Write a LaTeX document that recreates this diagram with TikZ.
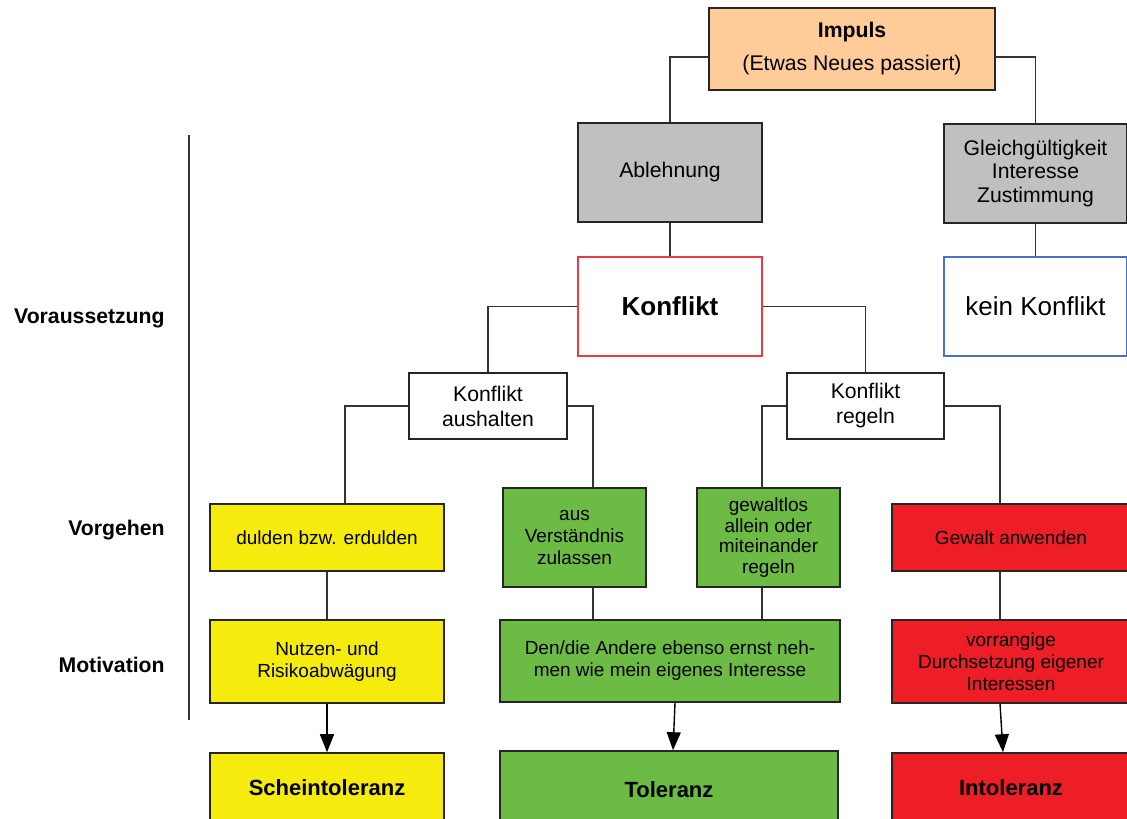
\documentclass[tikz,border=0pt]{standalone}
\usepackage{fontspec}
\setmainfont{Liberation Sans}
\usetikzlibrary{arrows.meta}

\definecolor{peach}{RGB}{255,204,153}
\definecolor{boxgray}{RGB}{192,192,192}
\definecolor{tolyellow}{RGB}{245,236,14}
\definecolor{tolgreen}{RGB}{108,187,68}
\definecolor{tolred}{RGB}{237,30,38}
\definecolor{konfred}{RGB}{235,60,70}
\definecolor{konfblue}{RGB}{68,114,196}

\begin{document}
\begin{tikzpicture}[x=0.5pt,y=-0.5pt,
  box/.style={draw=black!85,line width=0.8pt,align=center,inner sep=2pt,
    font=\fontsize{10.6}{12.5}\selectfont},
  small/.style={font=\fontsize{9.5}{11}\selectfont},
  endbox/.style={box,font=\fontsize{11}{13}\selectfont\bfseries},
  lab/.style={anchor=east,inner sep=0pt,font=\fontsize{10.6}{12.5}\selectfont\bfseries},
  line/.style={draw=black!80,line width=0.7pt},
  arr/.style={draw=black,line width=0.7pt,-{Triangle[length=9pt,width=7pt]}}]
  \useasboundingbox (0,0) rectangle (1127,818);

  % top
  \node[box,fill=peach,minimum width=143pt,minimum height=41pt] (impuls) at (852,49)
    {\textbf{Impuls}\\[4pt](Etwas Neues passiert)};
  \node[box,fill=boxgray,minimum width=92pt,minimum height=49.5pt] (ablehnung) at (670,172.5) {Ablehnung};
  \node[box,fill=boxgray,minimum width=91.5pt,minimum height=49.5pt,font=\fontsize{10.6}{11.8}\selectfont] (gleich) at (1035.5,173.5)
    {Gleichgültigkeit\\Interesse\\Zustimmung};
  \node[box,draw=konfred,minimum width=92pt,minimum height=49.5pt,font=\fontsize{13}{15}\selectfont\bfseries] (konflikt) at (670,306.5) {Konflikt};
  \node[box,draw=konfblue,minimum width=91.5pt,minimum height=49.5pt,font=\fontsize{13}{15}\selectfont] (kein) at (1035.5,306.5) {kein Konflikt};
  \node[box,minimum width=79pt,minimum height=33pt] (aushalten) at (488,406) {Konflikt\\aushalten};
  \node[box,minimum width=78.5pt,minimum height=33pt] (regeln) at (865.5,406) {Konflikt\\regeln};

  % Vorgehen
  \node[box,small,fill=tolyellow,minimum width=117pt,minimum height=33.5pt] (dulden) at (327,537.5) {dulden bzw. erdulden};
  \node[box,small,fill=tolgreen,minimum width=71.5pt,minimum height=49.5pt] (verst) at (574.5,537.5) {aus\\Verständnis\\zulassen};
  \node[box,small,fill=tolgreen,minimum width=71.5pt,minimum height=49.5pt,font=\fontsize{9.5}{10.3}\selectfont] (gewaltlos) at (768.5,537.5)
    {gewaltlos\\allein oder\\miteinander\\regeln};
  \node[box,small,fill=tolred,minimum width=119pt,minimum height=33.5pt] (gewalt) at (1011,537.5) {Gewalt anwenden};

  % Motivation
  \node[box,small,fill=tolyellow,minimum width=117pt,minimum height=41.5pt] (nutzen) at (327,661.5) {Nutzen- und\\Risikoabwägung};
  \node[box,small,fill=tolgreen,minimum width=170pt,minimum height=41pt] (ernst) at (670,661)
    {Den/die Andere ebenso ernst neh-\\men wie mein eigenes Interesse};
  \node[box,small,fill=tolred,minimum width=119pt,minimum height=41.5pt] (vorrang) at (1011,661.5)
    {vorrangige\\Durchsetzung eigener\\Interessen};

  % Ergebnis
  \node[endbox,fill=tolyellow,minimum width=117pt,minimum height=34.5pt] (schein) at (327,787.5) {Scheintoleranz};
  \node[endbox,fill=tolgreen,minimum width=169pt,minimum height=39pt] (toleranz) at (669,790) {Toleranz};
  \node[endbox,fill=tolred,minimum width=119pt,minimum height=34.5pt] (intol) at (1011,787.5) {Intoleranz};

  % left side
  \foreach \y/\txt in {318/Voraussetzung,530/Vorgehen,665/Motivation}
    \node[lab] (lab\y) at (165,\y) {\txt};
  \coordinate (stemtop) at (189,135);
  \coordinate (stembot) at (189,720);
  \draw[line] (stemtop) -- (stembot);

  % connectors
  \draw[line] ([yshift=-4pt]impuls.west) -| (ablehnung.north);
  \draw[line] ([yshift=-4pt]impuls.east) -| (gleich.north);
  \draw[line] (ablehnung.south) -- (konflikt.north);
  \draw[line] (gleich.south) -- (kein.north);
  \draw[line] (konflikt.west) -| (aushalten.north);
  \draw[line] (konflikt.east) -| (regeln.north);
  \draw[line] (aushalten.west) -| ([xshift=9pt]dulden.north);
  \draw[line] (aushalten.east) -| ([xshift=9.25pt]verst.north);
  \draw[line] (regeln.west) -| ([xshift=-3.25pt]gewaltlos.north);
  \draw[line] (regeln.east) -| ([xshift=-5.5pt]gewalt.north);
  \draw[line] (dulden.south) -- (nutzen.north);
  \draw[line] ([xshift=9.25pt]verst.south) -- ([xshift=-38.5pt]ernst.north);
  \draw[line] ([xshift=-3.25pt]gewaltlos.south) -- ([xshift=46pt]ernst.north);
  \draw[line] ([xshift=-5.5pt]gewalt.south) -- ([xshift=-5.5pt]vorrang.north);
  \draw[arr] (nutzen.south) -- (schein.north);
  \draw[arr] ([xshift=2.5pt]ernst.south) -- ([xshift=2pt]toleranz.north);
  \draw[arr] ([xshift=-5.5pt]vorrang.south) -- ([xshift=-4pt]intol.north);
\end{tikzpicture}
\end{document}
